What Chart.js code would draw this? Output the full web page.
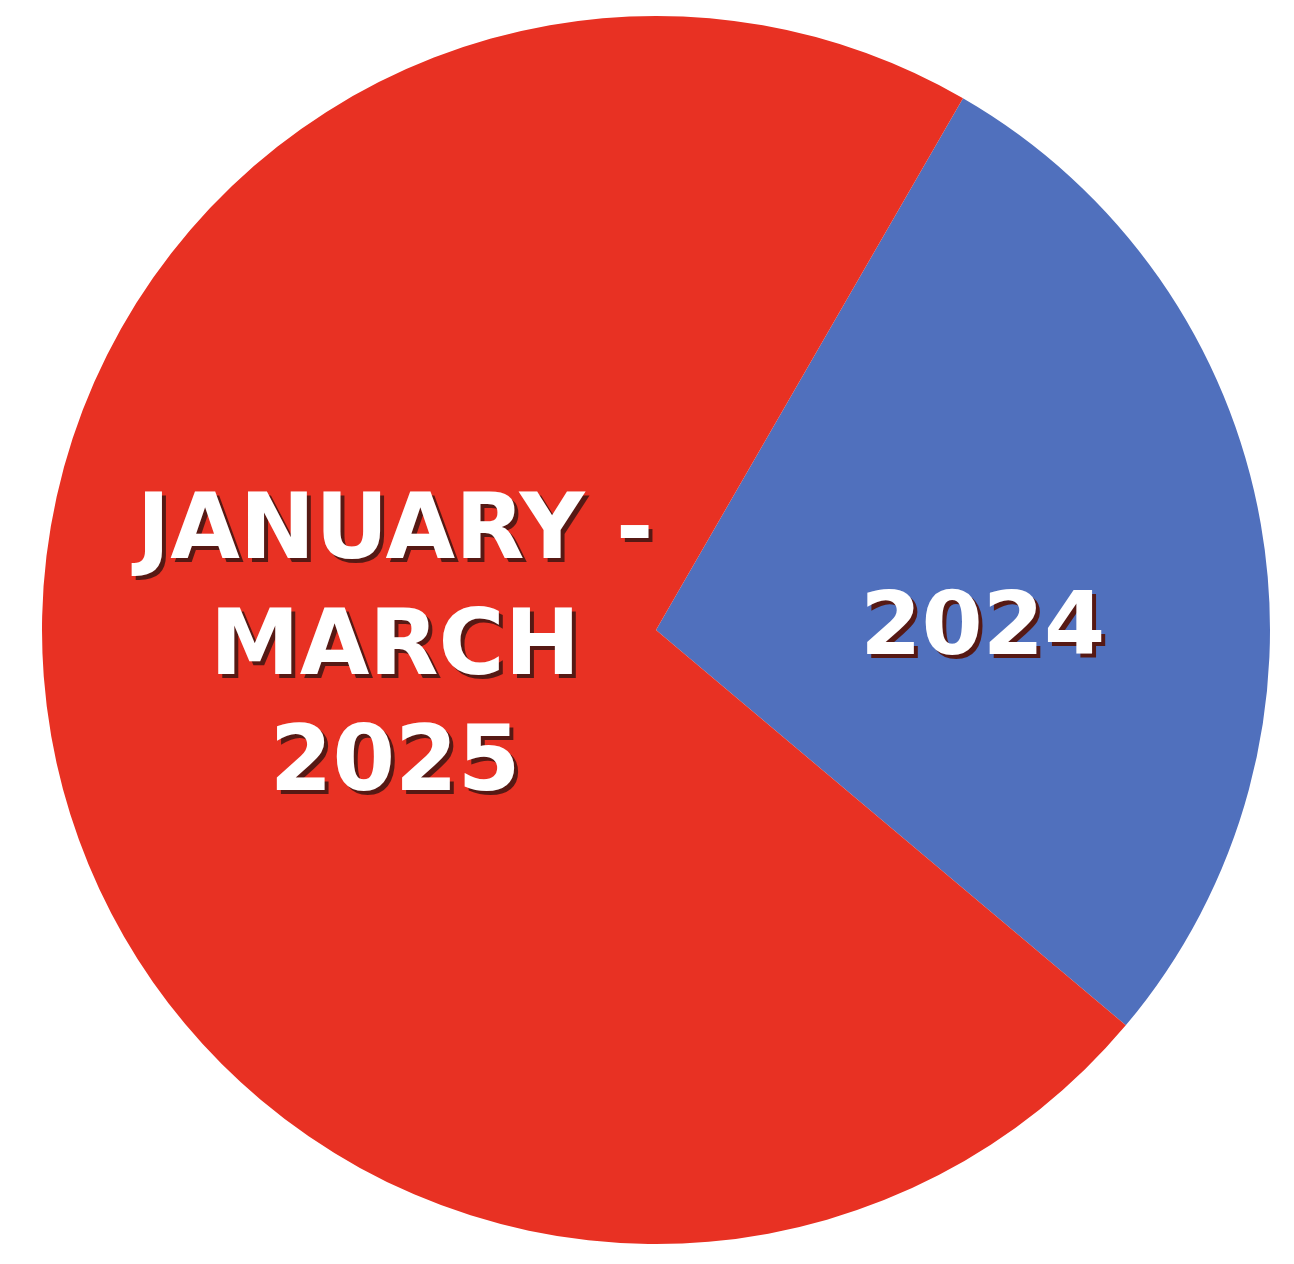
<!DOCTYPE html>
<html lang="en">

<head>
    <meta charset="UTF-8">
    <title>January - March 2025 vs 2024</title>
    <script src="https://cdn.jsdelivr.net/npm/chart.js"></script>
    <style>
        html, body {
            margin: 0;
            padding: 0;
            background: #ffffff;
        }

        #wrap {
            width: 1294px;
            height: 1264px;
        }
    </style>
</head>

<body>
    <div id="wrap">
        <canvas id="pieChart"></canvas>
    </div>

    <script>
        // Slice data (2024 is about 100 degrees of the circle)
        const labels = ['2024', 'January - March 2025'];
        const labelLines = [['2024'], ['JANUARY -', 'MARCH', '2025']];
        const values = [27.8, 72.2];
        const colors = ['#5070BD', '#E83123'];

        // Draw the white, shadowed labels inside each slice
        const sliceLabels = {
            id: 'sliceLabels',
            afterDatasetsDraw(chart) {
                const ctx = chart.ctx;
                const meta = chart.getDatasetMeta(0);
                // label centre relative to the pie centre, in units of the radius
                const offsets = [[0.532, 0.002], [-0.425, 0.033]];
                const fontSizes = [88, 90];
                meta.data.forEach((arc, i) => {
                    const p = arc.getProps(['x', 'y', 'outerRadius']);
                    const cx = p.x + offsets[i][0] * p.outerRadius;
                    const cy = p.y + offsets[i][1] * p.outerRadius;
                    const lines = labelLines[i];
                    const lineHeight = 116;
                    ctx.save();
                    ctx.font = 'bold ' + fontSizes[i] + 'px "DejaVu Sans"';
                    ctx.textAlign = 'center';
                    ctx.textBaseline = 'middle';
                    lines.forEach((line, j) => {
                        const y = cy + (j - (lines.length - 1) / 2) * lineHeight;
                        ctx.fillStyle = '#561914';
                        ctx.fillText(line, cx + 4, y + 4);
                        ctx.fillStyle = '#ffffff';
                        ctx.fillText(line, cx, y);
                    });
                    ctx.restore();
                });
            }
        };

        const ctx = document.getElementById('pieChart').getContext('2d');

        new Chart(ctx, {
            type: 'pie',
            data: {
                labels: labels,
                datasets: [{
                    data: values,
                    backgroundColor: colors,
                    borderWidth: 0
                }]
            },
            options: {
                responsive: true,
                maintainAspectRatio: false,
                animation: false,
                rotation: 30,
                layout: {
                    padding: { top: 16, bottom: 20, left: 42, right: 24 }
                },
                plugins: {
                    legend: { display: false },
                    tooltip: { enabled: false }
                }
            },
            plugins: [sliceLabels]
        });
    </script>
</body>

</html>
